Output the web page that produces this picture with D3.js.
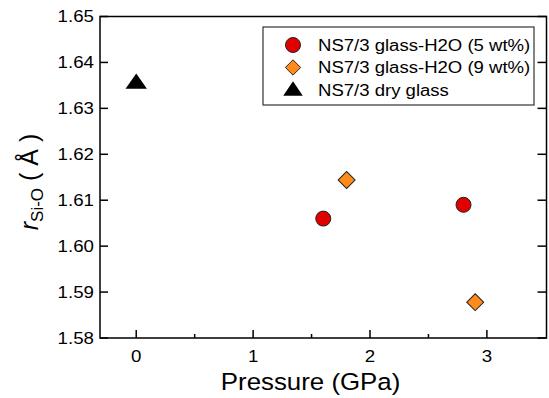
<!DOCTYPE html>
<html>
<head>
<meta charset="utf-8">
<script src="https://cdn.jsdelivr.net/npm/d3@7"></script>
<style>
  body { margin: 0; background: #fff; }
  text { font-family: "Liberation Sans", Arial, sans-serif; fill: #000; }
</style>
</head>
<body>
<div id="chart"></div>
<script>
// data
const seriesNames = ["NS7/3 glass-H2O (5 wt%)", "NS7/3 glass-H2O (9 wt%)", "NS7/3 dry glass"];
const wet5Pressure = [1.6, 2.8];
const wet5R = [1.606, 1.609];
const wet9Pressure = [1.8, 2.9];
const wet9R = [1.6144, 1.5878];
const dryPressure = [0];
const dryR = [1.6357];
const xTicks = [0, 1, 2, 3];
const xMinorTicks = [0.5, 1.5, 2.5];
const yTicks = [1.58, 1.59, 1.60, 1.61, 1.62, 1.63, 1.64, 1.65];

const width = 549, height = 398;
const margin = { top: 16.5, right: 2.5, bottom: 60, left: 100 };
const innerW = width - margin.left - margin.right;
const innerH = height - margin.top - margin.bottom;
const stretch = 1.1; // the source picture is a bit wider than tall

const svg = d3.select("#chart").append("svg")
    .attr("width", width)
    .attr("height", height);

const g = svg.append("g")
    .attr("transform", `translate(${margin.left},${margin.top})`);

// scales
const x = d3.scaleLinear().domain([-0.31, 3.51]).range([0, innerW]);
const y = d3.scaleLinear().domain([1.58, 1.65]).range([innerH, 0]);

// x axis: inward ticks
const xAxis = g.append("g").attr("transform", `translate(0,${innerH})`);
xAxis.selectAll("line.major").data(xTicks).join("line")
    .attr("x1", d => x(d)).attr("x2", d => x(d))
    .attr("y1", 0).attr("y2", -8)
    .attr("stroke", "#000").attr("stroke-width", 1.5);
xAxis.selectAll("line.minor").data(xMinorTicks).enter().append("line")
    .attr("x1", d => x(d)).attr("x2", d => x(d))
    .attr("y1", 0).attr("y2", -4)
    .attr("stroke", "#000").attr("stroke-width", 1.5);
xAxis.selectAll("text").data(xTicks).join("text")
    .attr("transform", d => `translate(${x(d)},24) scale(${stretch},1)`)
    .attr("text-anchor", "middle")
    .style("font-size", "17px")
    .text(d => d);

// y axis: inward ticks on left and right
const yAxis = g.append("g");
yAxis.selectAll("line.left").data(yTicks).join("line")
    .attr("x1", 0).attr("x2", 8)
    .attr("y1", d => y(d)).attr("y2", d => y(d))
    .attr("stroke", "#000").attr("stroke-width", 1.5);
yAxis.selectAll("line.right").data(yTicks).enter().append("line")
    .attr("x1", innerW).attr("x2", innerW - 9)
    .attr("y1", d => y(d)).attr("y2", d => y(d))
    .attr("stroke", "#000").attr("stroke-width", 1.5);
yAxis.selectAll("text").data(yTicks).join("text")
    .attr("transform", d => `translate(-6,${y(d)}) scale(${stretch},1)`)
    .attr("dy", "0.35em")
    .attr("text-anchor", "end")
    .style("font-size", "17px")
    .text(d => d3.format(".2f")(d));

// frame
g.append("rect")
    .attr("width", innerW).attr("height", innerH)
    .attr("fill", "none").attr("stroke", "#000").attr("stroke-width", 1.5);

// axis titles
svg.append("text")
    .attr("transform", `translate(${margin.left + x(1.5) - 1},390) scale(${stretch},1)`)
    .attr("text-anchor", "middle")
    .style("font-size", "23.5px")
    .text("Pressure (GPa)");

const yTitle = svg.append("text")
    .attr("transform", `translate(38,182) rotate(-90)`)
    .attr("text-anchor", "middle")
    .style("font-size", "25px");
yTitle.append("tspan").style("font-style", "italic").text("r");
yTitle.append("tspan").attr("dy", 5).style("font-size", "17px").text("Si-O");
yTitle.append("tspan").attr("dy", -5).text(" ( Å )");

// markers
const circle = d3.symbol().type(d3.symbolCircle).size(Math.PI * 7.5 * 7.5);
const diamond = d3.symbol().type(d3.symbolSquare).size(12 * 12);
const triangle = d3.symbol().type(d3.symbolTriangle).size(150);

const pts = g.append("g");
pts.selectAll("path.wet5").data(d3.zip(wet5Pressure, wet5R)).join("path")
    .attr("class", "wet5")
    .attr("d", circle)
    .attr("transform", d => `translate(${x(d[0])},${y(d[1])})`)
    .attr("fill", "#e00000").attr("stroke", "#222").attr("stroke-width", 1);
pts.selectAll("path.wet9").data(d3.zip(wet9Pressure, wet9R)).join("path")
    .attr("class", "wet9")
    .attr("d", diamond)
    .attr("transform", d => `translate(${x(d[0])},${y(d[1])}) rotate(45)`)
    .attr("fill", "#ff8c1a").attr("stroke", "#222").attr("stroke-width", 1);
pts.selectAll("path.dry").data(d3.zip(dryPressure, dryR)).join("path")
    .attr("class", "dry")
    .attr("d", triangle)
    .attr("transform", d => `translate(${x(d[0])},${y(d[1]) + 1.5}) scale(1.15,0.95)`)
    .attr("fill", "#000");

// legend
const legend = svg.append("g").attr("transform", "translate(263,27)");
legend.append("rect")
    .attr("width", 271).attr("height", 78)
    .attr("fill", "#fff").attr("stroke", "#333").attr("stroke-width", 1.2);
const rows = legend.selectAll("g.row").data(seriesNames).join("g")
    .attr("class", "row")
    .attr("transform", (d, i) => `translate(0,${18 + i * 22.5})`);
rows.append("text")
    .attr("transform", "translate(55,0) scale(1.16,1)")
    .attr("dy", "0.35em")
    .style("font-size", "16px")
    .text(d => d);
rows.filter((d, i) => i === 0).append("path")
    .attr("d", circle)
    .attr("transform", "translate(30,0)")
    .attr("fill", "#e00000").attr("stroke", "#222");
rows.filter((d, i) => i === 1).append("path")
    .attr("d", diamond)
    .attr("transform", "translate(30,0) rotate(45) scale(0.9)")
    .attr("fill", "#ff8c1a").attr("stroke", "#222");
rows.filter((d, i) => i === 2).append("path")
    .attr("d", triangle)
    .attr("transform", "translate(30,1) scale(1.05,0.9)")
    .attr("fill", "#000");
</script>
</body>
</html>
